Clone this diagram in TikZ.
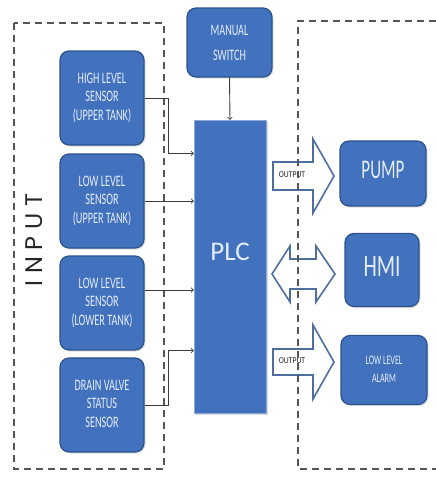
\documentclass[tikz,border=0pt]{standalone}
\usepackage{fontspec}
\usepackage{graphicx}
\setmainfont{Carlito}
\newfontfamily\inputfont{Poppins}[LetterSpace=28]
\usetikzlibrary{arrows, shadows}
\definecolor{boxblue}{RGB}{66,114,189}
\definecolor{boxedge}{RGB}{44,82,140}
\definecolor{boxtext}{RGB}{228,236,248}
\definecolor{arrowedge}{RGB}{78,110,160}
\definecolor{dashgray}{RGB}{85,85,85}
\definecolor{linegray}{RGB}{60,60,60}
\newcommand\slimtext[2][0.64]{\scalebox{#1}[1]{\begin{tabular}{@{}c@{}}#2\end{tabular}}}
\tikzset{
  blk/.style={draw=boxedge, fill=boxblue, line width=1.2pt, rounded corners=9pt, text=boxtext, align=center, inner sep=0pt, drop shadow={opacity=0.25, shadow xshift=1.5pt, shadow yshift=-1.5pt}},
  sensor/.style={blk, minimum width=84pt, minimum height=94pt, font=\fontsize{16}{18.5}\selectfont},
  conn/.style={draw=linegray, line width=0.9pt, ->},
  fatarrow/.style={draw=arrowedge, fill=white, line width=1.6pt, line join=miter},
  frame/.style={draw=dashgray, line width=1.5pt, dash pattern=on 7pt off 5pt},
  outtag/.style={font=\fontsize{9}{9}\selectfont, text=black!85, inner sep=0pt}
}
\begin{document}
\begin{tikzpicture}[x=1pt, y=-1pt, >=to]
	\useasboundingbox (0,0) rectangle (436,479);
	%sensors
	\node[sensor] (s1) at (102,98) {\slimtext{HIGH LEVEL\\SENSOR\\(UPPER TANK)}};
	\node[sensor] (s2) at (102,201) {\slimtext{LOW LEVEL\\SENSOR\\(UPPER TANK)}};
	\node[sensor] (s3) at (102,303) {\slimtext{LOW LEVEL\\SENSOR\\(LOWER TANK)}};
	\node[sensor] (s4) at (102,405) {\slimtext{DRAIN VALVE\\STATUS\\SENSOR}};
	\node[rotate=90, font=\inputfont\fontsize{24}{24}\selectfont, text=black!85] (input) at (34,240) {INPUT};
	%manual switch and plc
	\node[blk, minimum width=85pt, minimum height=69pt, font=\fontsize{16}{25}\selectfont] (manual) at (229.5,42.5) {\slimtext{MANUAL\\SWITCH}};
	\node[draw=boxblue!60!white, fill=boxblue, minimum width=72pt, minimum height=293pt, inner sep=0pt, drop shadow={opacity=0.3, shadow xshift=2pt, shadow yshift=-2pt}] (plc) at (230,266.5) {};
	\node[text=boxtext, font=\fontsize{27}{27}\selectfont] (plclabel) at (230,252) {PLC};
	%outputs
	\node[blk, minimum width=86pt, minimum height=65pt, font=\fontsize{27}{27}\selectfont] (pump) at (383,173.5) {\slimtext[0.63]{PUMP}};
	\node[blk, minimum width=74pt, minimum height=73pt, font=\fontsize{31}{31}\selectfont] (hmi) at (382,270) {\slimtext[0.69]{HMI}};
	\node[blk, minimum width=86pt, minimum height=69pt, font=\fontsize{13}{18}\selectfont] (alarm) at (384,370) {\slimtext[0.62]{LOW LEVEL\\ALARM}};
	%block arrows
	\draw[fatarrow] (273,162) -- (313,162) -- (313,139) -- (334,176) -- (313,213) -- (313,190) -- (273,190) -- cycle;
	\draw[fatarrow] (272,274) -- (290,246) -- (290,259) -- (316,259) -- (316,246) -- (335,274) -- (316,302) -- (316,289) -- (290,289) -- (290,302) -- cycle;
	\draw[fatarrow] (273,349) -- (313,349) -- (313,325) -- (334,362) -- (313,399) -- (313,375) -- (273,375) -- cycle;
	\node[outtag] (out1) at (292,176) {\slimtext[0.85]{OUTPUT}};
	\node[outtag] (out2) at (292,362) {\slimtext[0.85]{OUTPUT}};
	%dashed frames
	\draw[frame] (14,23) rectangle (164,469);
	\draw[frame] (436,21) -- (298,21) -- (298,469) -- (436,469);
	%wires into plc
	\draw[conn] (s1.east) -- ++(24,0) |- (plc.west |- s2.north);
	\draw[conn] (s2.east) -- (s2.east -| plc.west);
	\draw[conn] ([yshift=13pt]s3.east) -- ([yshift=13pt]s3.east -| plc.west);
	\draw[conn] (s4.east) -- ++(24,0) |- (plc.west |- s3.south);
	\draw[conn] (manual.south) -- (plc.north);
\end{tikzpicture}
\end{document}
